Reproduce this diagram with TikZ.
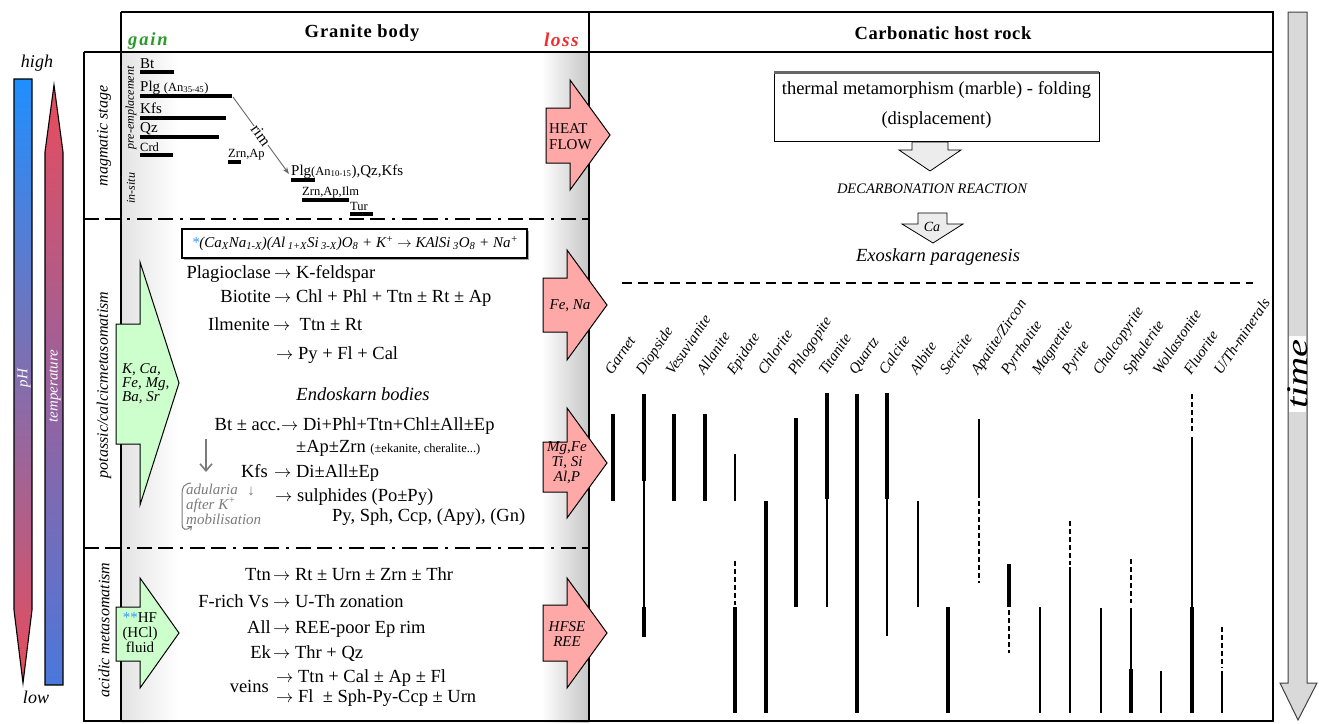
\documentclass[tikz,border=0pt]{standalone}
\usepackage{fontspec}
\setmainfont{Liberation Serif}
\usetikzlibrary{arrows.meta,shapes.geometric}
\definecolor{pinkfill}{HTML}{FFA8A8}
\definecolor{greenfill}{HTML}{CCFFCC}
\definecolor{gaingreen}{HTML}{2A9A2A}
\definecolor{lossred}{HTML}{EE3030}
\definecolor{starblue}{HTML}{3399FF}
\definecolor{phblue}{HTML}{1F8FFF}
\definecolor{phred}{HTML}{E84C5C}
\definecolor{tempblue}{HTML}{4A78DC}
\definecolor{adgray}{HTML}{7A7A7A}
\newcommand\FSmain{\fontsize{18.5}{22}\selectfont}
\newcommand\FSmin{\fontsize{15}{18}\selectfont}
\newcommand\FSsm{\fontsize{12.5}{15}\selectfont}
\newcommand\FSlab{\fontsize{15}{18}\selectfont}
\newcommand\FShead{\fontsize{18.5}{22}\selectfont}
\newcommand\myarrow{\ensuremath{\rightarrow}}
\tikzset{
  frameline/.style={line width=2.2pt},
  pinkarr/.style={fill=pinkfill, draw=black, line width=1pt, line join=miter},
  greenarr/.style={fill=greenfill, draw=black, line width=1pt, line join=miter},
  grayarr/.style={fill=gray!15, draw=black, line width=0.8pt},
  thickbar/.style={line width=4.3pt},
  thinbar/.style={line width=1.9pt},
  dashbar/.style={line width=1.9pt, dash pattern=on 4.5pt off 3.5pt},
  magbar/.style={line width=4pt},
  dashdotline/.style={line width=1.8pt, dash pattern=on 15pt off 6pt on 15pt off 7pt on 3pt off 7pt},
  mtext/.style={font=\FSmain, inner sep=0pt},
  lt/.style={mtext, anchor=base east},
  rt/.style={mtext, anchor=base west},
  minlabel/.style={font=\FSmin\itshape, rotate=56, anchor=base west, inner sep=0pt},
  smlab/.style={font=\FSlab, anchor=base west, inner sep=0pt},
  tinylab/.style={font=\FSsm, anchor=base west, inner sep=0pt},
  stagelab/.style={font=\fontsize{16}{19}\selectfont\itshape, rotate=90, inner sep=0pt},
}
\begin{document}
\begin{tikzpicture}[x=1pt,y=-1pt]
\useasboundingbox (0,0) rectangle (1319,723);
% gradient strips
\shade[left color=gray!22, right color=white] (121,52) rectangle (179,722);
\shade[left color=white, right color=gray!45] (541,52) rectangle (589,722);
% frame
\draw[frameline] (121,12) -- (1273,12);
\draw[frameline] (84,52) -- (1273,52);
\draw[frameline] (121,12) -- (121,722);
\draw[frameline] (84,52) -- (84,722);
\draw[frameline] (589,12) -- (589,722);
\draw[frameline] (1273,11) -- (1273,722);
\draw[frameline] (83,721) -- (1274,721);
% dash-dot separators
\draw[dashdotline] (84,219) -- (589,219);
\draw[dashdotline] (84,548) -- (589,548);
% headers
\node[font=\FShead\bfseries\addfontfeatures{LetterSpace=5}] (hgran) at (362,33) {Granite body};
\node[font=\FShead\bfseries\addfontfeatures{LetterSpace=3}] (hcarb) at (943,33) {Carbonatic host rock};
\node[font=\FShead\bfseries\itshape\addfontfeatures{LetterSpace=10}, text=gaingreen, anchor=base west, inner sep=0pt] (hgain) at (128,45) {gain};
\node[font=\fontsize{19.5}{23}\selectfont\bfseries\itshape\addfontfeatures{LetterSpace=7}, text=lossred, anchor=base west, inner sep=0pt] (hloss) at (544,46) {loss};
% stage labels
\node[stagelab] (st1) at (104,136) {magmatic stage};
\node[stagelab] (st2) at (104,385) {potassic/calcicmetasomatism};
\node[stagelab] (st3) at (104,630) {acidic metasomatism};
\node[font=\fontsize{12}{14}\selectfont\itshape, rotate=90, inner sep=0pt] (pre) at (131,108) {pre-emplacement};
\node[font=\fontsize{12}{14}\selectfont\itshape, rotate=90, inner sep=0pt] (insitu) at (131,188) {in-situ};
% pH and temperature bars
\shade[top color=phblue, bottom color=phred, draw=black, line width=1.1pt] (14,79) -- (32,79) -- (32,610) -- (23,683) -- (14,610) -- cycle;
\shade[top color=phred, bottom color=tempblue, draw=black, line width=1.1pt] (54,85) -- (63,152) -- (63,685) -- (45,685) -- (45,152) -- cycle;
\node[font=\fontsize{15}{17}\selectfont\itshape, text=white, rotate=90, inner sep=0pt] (ph) at (24,378) {pH};
\node[font=\fontsize{15}{17}\selectfont\itshape, text=white, rotate=90, inner sep=0pt] (temp) at (55,386) {temperature};
\node[font=\fontsize{18}{21}\selectfont\itshape] (high) at (37,63) {high};
\node[font=\fontsize{18}{21}\selectfont\itshape] (low) at (36,697) {low};
% time arrow
\draw[fill=gray!30, draw=black!75, line width=1pt] (1288,12) -- (1307,12) -- (1307,683) -- (1317,683) -- (1298,720) -- (1280,683) -- (1288,683) -- cycle;
\fill[white] (1288.6,336) rectangle (1306.4,412);
\node[font=\fontsize{30}{34}\selectfont\itshape, rotate=90, inner sep=0pt] (time) at (1298,374) {\scalebox{1.35}[1]{time}};
% magmatic stage minerals
\node[smlab] (bt) at (140,68) {Bt};
\draw[magbar] (140,72) -- (174,72);
\node[smlab] (plg) at (140,91) {Plg {\FSsm(An\textsubscript{35-45})}};
\draw[magbar] (140,96) -- (232,96);
\node[smlab] (kfs) at (140,113) {Kfs};
\draw[magbar] (140,118) -- (226,118);
\node[smlab] (qz) at (140,132) {Qz};
\draw[magbar] (140,137) -- (219,137);
\node[tinylab] (crd) at (140,151) {Crd};
\draw[magbar] (140,155) -- (173,155);
\node[tinylab] (zrnap) at (228,157) {Zrn,Ap};
\draw[magbar] (228,162) -- (241,162);
\node[smlab] (plg2) at (291,175) {Plg{\FSsm(An\textsubscript{10-15}}),Qz,Kfs};
\draw[magbar] (291,180) -- (315,180);
\node[tinylab] (zai) at (302,195) {Zrn,Ap,Ilm};
\draw[magbar] (302,200) -- (349,200);
\node[tinylab] (tur) at (350,210) {Tur};
\draw[magbar] (350,214) -- (373,214);
\coordinate (rimA) at (233,97);
\coordinate (rimB) at (289,174);
\draw[black!60, line width=0.9pt, -{Stealth[length=7pt,width=5pt]}] (rimA) -- node[sloped, fill=white, text=black, inner sep=0.5pt, font=\fontsize{16}{18}\selectfont] (rim) {rim} (rimB);
% pink arrows
\draw[pinkarr] (546,108) -- (570,108) -- (570,80) -- (610,135) -- (570,190) -- (570,163) -- (546,163) -- cycle;
\node[font=\FSlab, align=left, anchor=west, inner sep=0pt] (heat) at (549,137) {HEAT\\[-2pt]FLOW};
\draw[pinkarr] (543,278) -- (567,278) -- (567,250) -- (607,305) -- (567,360) -- (567,332) -- (543,332) -- cycle;
\node[font=\FSlab\itshape, inner sep=0pt] (fena) at (570,306) {Fe, Na};
\draw[pinkarr] (543,442) -- (567,442) -- (567,408) -- (607,463) -- (567,518) -- (567,492) -- (543,492) -- cycle;
\node[font=\FSlab\itshape, align=center, inner sep=0pt] (mgfe) at (567,463) {Mg,Fe\\[-3pt]Ti, Si\\[-3pt]Al,P};
\draw[pinkarr] (543,605) -- (567,605) -- (567,578) -- (607,633) -- (567,688) -- (567,661) -- (543,661) -- cycle;
\node[font=\FSlab\itshape, align=center, inner sep=0pt] (hfse) at (567,634) {HFSE\\[-3pt]REE};
% green arrows
\draw[greenarr] (116,324) -- (140,324) -- (140,262) -- (179,383) -- (140,505) -- (140,444) -- (116,444) -- cycle;
\node[font=\FSlab\itshape, align=left, anchor=west, inner sep=0pt] (kca) at (122,384) {K, Ca,\\[-4pt]Fe, Mg,\\[-4pt]Ba, Sr};
\draw[greenarr] (116,607) -- (140,607) -- (140,578) -- (179,633) -- (140,688) -- (140,661) -- (116,661) -- cycle;
\node[font=\FSlab, align=center, inner sep=0pt] (hf) at (140,633) {{\color{starblue}**}HF\\[-3pt](HCl)\\[-3pt]fluid};
% formula box
\fill[gray!70] (184,231) rectangle (529,260);
\draw[fill=white, line width=1.1pt] (182,229) rectangle (527,258);
\node[font=\fontsize{15}{18}\selectfont\itshape, inner sep=0pt] (formula) at (355,243.5) {{\color{starblue}*}(Ca\textsubscript{X}Na\textsubscript{1-X})(Al\,\textsubscript{1+X}Si\,\textsubscript{3-X})O\textsubscript{8} + K\textsuperscript{+} \myarrow{} KAlSi\,\textsubscript{3}O\textsubscript{8} + Na\textsuperscript{+}};
% potassic text
\node[lt] (l1) at (271,278) {Plagioclase};
\node[rt] (r1) at (274,278) {\myarrow{} K-feldspar};
\node[lt] (l2) at (271,302) {Biotite};
\node[rt] (r2) at (274,302) {\myarrow{} Chl + Phl + Ttn ± Rt ± Ap};
\node[lt] (l3) at (270,330) {Ilmenite};
\node[rt] (r3) at (273,330) {\myarrow{} \ Ttn ± Rt};
\node[rt] (r4) at (276,359) {\myarrow{} Py + Fl + Cal};
\node[mtext, font=\FSmain\itshape, anchor=base] (endo) at (363,400) {Endoskarn bodies};
\node[lt] (l5) at (281,430) {Bt ± acc.};
\node[rt] (r5) at (281,430) {\myarrow{} Di+Phl+Ttn+Chl±All±Ep};
\node[rt] (r6) at (296,452) {±Ap±Zrn {\FSsm(±ekanite, cheralite...)}};
\node[lt] (l7) at (268,477) {Kfs};
\node[rt] (r7) at (274,477) {\myarrow{} Di±All±Ep};
\node[rt] (r8) at (275,501) {\myarrow{} sulphides (Po±Py)};
\node[rt] (r9) at (332,521) {Py, Sph, Ccp, (Apy), (Gn)};
% adularia
\coordinate (gA) at (206,439);
\coordinate (gB) at (206,472);
\draw[adgray, line width=1.6pt, -{Straight Barb[length=7pt,width=12pt]}] (gA) -- (gB);
\node[font=\FSlab, text=adgray, inner sep=0pt] (sarr) at (251,491) {↓};
\node[font=\FSlab\itshape, text=adgray, anchor=base west, inner sep=0pt] (ad1) at (186,494) {adularia};
\node[font=\FSlab\itshape, text=adgray, anchor=base west, inner sep=0pt] (ad2) at (186,509) {after K\textsuperscript{+}};
\node[font=\FSlab\itshape, text=adgray, anchor=base west, inner sep=0pt] (ad3) at (186,524) {mobilisation};
\coordinate (brA) at (191,483);
\coordinate (brB) at (192,526);
\draw[adgray, line width=1pt, -{Straight Barb[length=3pt,width=5pt]}] (brA) .. controls (184,484) and (182,487) .. (182,494) -- (182,524) .. controls (182,530) and (186,531) .. (brB);
% acidic text
\node[lt] (a1) at (271,580) {Ttn};
\node[rt] (b1) at (273,580) {\myarrow{} Rt ± Urn ± Zrn ± Thr};
\node[lt] (a2) at (269,607) {F-rich Vs};
\node[rt] (b2) at (273,607) {\myarrow{} U-Th zonation};
\node[lt] (a3) at (271,633) {All};
\node[rt] (b3) at (273,633) {\myarrow{} REE-poor Ep rim};
\node[lt] (a4) at (271,658) {Ek};
\node[rt] (b4) at (273,658) {\myarrow{} Thr + Qz};
\node[lt] (a5) at (269,692) {veins};
\node[rt] (b5) at (276,682) {\myarrow{} Ttn + Cal ± Ap ± Fl};
\node[rt] (b6) at (276,702) {\myarrow{} Fl \ ± Sph-Py-Ccp ± Urn};
% carbonatic upper part
\draw[fill=white, line width=0.9pt] (774,72) rectangle (1099,141);
\draw[black!60, line width=2.5pt] (774,72.5) -- (1099,72.5);
\node[mtext, align=center] (thermal) at (936.5,105) {thermal metamorphism (marble) - folding\\[8pt](displacement)};
\draw[grayarr] (912,142) -- (948,142) -- (948,150) -- (961,150) -- (930,171) -- (899,150) -- (912,150) -- cycle;
\node[font=\fontsize{14.5}{17}\selectfont\itshape, inner sep=0pt] (decarb) at (932,189) {DECARBONATION REACTION};
\draw[grayarr] (918,213) -- (947,213) -- (947,224) -- (963,224) -- (933,243) -- (902,224) -- (918,224) -- cycle;
\node[font=\fontsize{14}{16}\selectfont\itshape, inner sep=0pt] (ca) at (932,227) {Ca};
\node[mtext, font=\FSmain\itshape] (exo) at (938,257) {Exoskarn paragenesis};
\draw[line width=1.3pt, dash pattern=on 10pt off 6pt] (622,283) -- (1253,283);
% mineral labels
\foreach \x/\nm [count=\i] in {613/Garnet, 644/Diopside, 674/Vesuvianite, 705/Allanite, 735/Epidote, 766/Chlorite, 796/Phlogopite, 827/Titanite, 857/Quartz, 887/Calcite, 918/Albite, 948/Sericite, 979/{Apatite/Zircon}, 1009/Pyrrhotite, 1040/Magnetite, 1070/Pyrite, 1101/Chalcopyrite, 1131/Sphalerite, 1161/Wollastonite, 1192/Fluorite, 1222/{U/Th-minerals}}
  \node[minlabel] (min\i) at (\x-1,376) {\nm};
% bars
\draw[thickbar] (613,414) -- (613,501);
\draw[thickbar] (644,394) -- (644,481);
\draw[thinbar] (644,481) -- (644,607);
\draw[thickbar] (644,607) -- (644,637);
\draw[thickbar] (674,414) -- (674,501);
\draw[thickbar] (705,414) -- (705,501);
\draw[thinbar] (735,454) -- (735,501);
\draw[dashbar] (735,561) -- (735,605);
\draw[thickbar] (735,607) -- (735,713);
\draw[line width=3.5pt] (766,501) -- (766,713);
\draw[line width=3.8pt] (796,418) -- (796,607);
\draw[thickbar] (827,393) -- (827,499);
\draw[thinbar] (827,499) -- (827,607);
\draw[thickbar] (857,394) -- (857,713);
\draw[thickbar] (887,393) -- (887,499);
\draw[thinbar] (887,499) -- (887,636);
\draw[thinbar] (918,501) -- (918,607);
\draw[thickbar] (948,607) -- (948,713);
\draw[line width=2.4pt] (979,419) -- (979,498);
\draw[dashbar] (979,501) -- (979,583);
\draw[line width=4.8pt] (1009,564) -- (1009,607);
\draw[dashbar] (1009,610) -- (1009,653);
\draw[thinbar] (1040,607) -- (1040,713);
\draw[dashbar] (1070,521) -- (1070,565);
\draw[thinbar] (1070,567) -- (1070,713);
\draw[thinbar] (1101,608) -- (1101,713);
\draw[dashbar] (1131,559) -- (1131,603);
\draw[thinbar] (1131,608) -- (1131,669);
\draw[thickbar] (1131,669) -- (1131,713);
\draw[thinbar] (1161,671) -- (1161,713);
\draw[dashbar] (1192,394) -- (1192,433);
\draw[thinbar] (1192,437) -- (1192,607);
\draw[thickbar] (1192,607) -- (1192,713);
\draw[dashbar] (1222,627) -- (1222,668);
\draw[thinbar] (1222,671) -- (1222,713);
\end{tikzpicture}
\end{document}
